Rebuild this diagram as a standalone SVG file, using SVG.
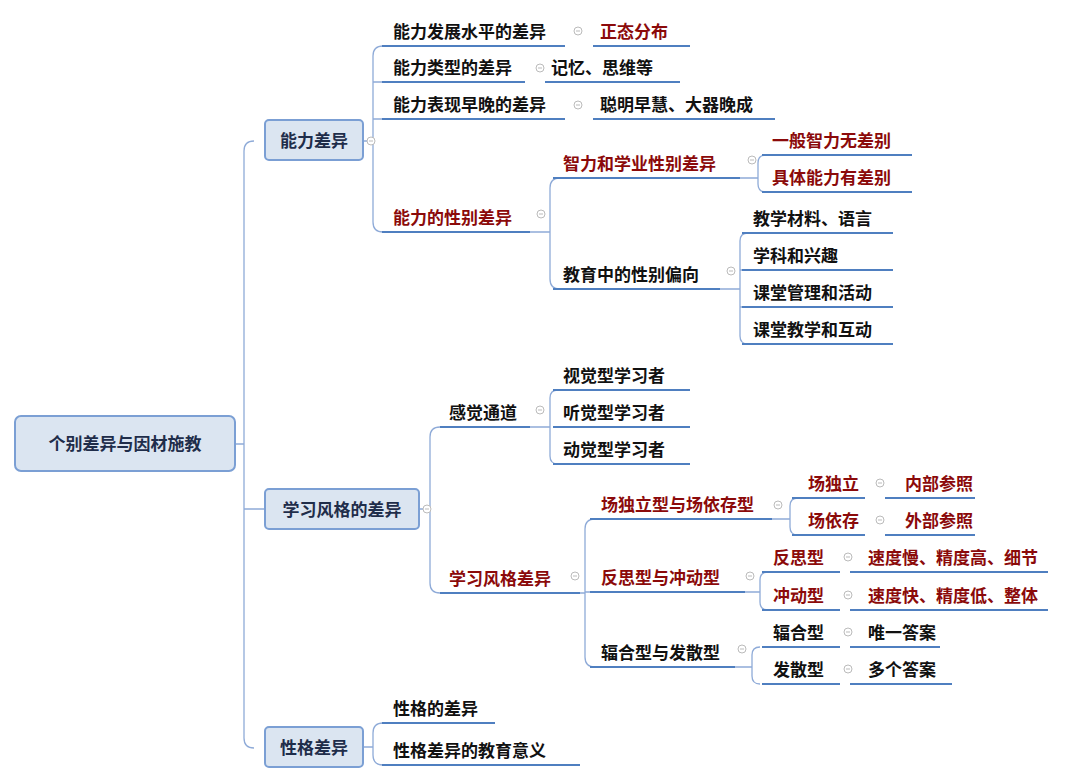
<svg xmlns="http://www.w3.org/2000/svg" width="1080" height="782" viewBox="0 0 1080 782">
<style>
.t{font-family:"Noto Sans CJK SC","Liberation Sans",sans-serif;font-weight:bold;font-size:17px;fill:#111}
.r{fill:#8b0a0a}
.b{fill:#1f2d4a}
.u{stroke:#4f7fc0;stroke-width:2.2;fill:none}
.c{stroke:#8fabd8;stroke-width:1.3;fill:none}
.box{fill:#dbe5f1;stroke:#7b9fd4;stroke-width:2}
.i circle{fill:#fff;stroke:#bbb;stroke-width:1}
.i line{stroke:#bbb;stroke-width:1}
</style>
<defs>
<g id="ic" class="i"><circle r="4"/><line x1="-2" x2="2" y1="0" y2="0"/></g>
</defs>
<rect width="1080" height="782" fill="#fff"/>
<g id="connectors">
<path class="c" d="M235 444H244M254 141Q244 141 244 151V738Q244 748 254 748M244 509H265"/>
<path class="c" d="M363 141H373M383 46Q373 46 373 56V222Q373 232 383 232M373 82H382M373 119H382"/>
<path class="c" d="M530 232H550M560 178Q550 178 550 188V279Q550 289 560 289"/>
<path class="c" d="M740 178H758M766 155Q758 155 758 163V184Q758 192 766 192"/>
<path class="c" d="M720 289H740M748 233Q740 233 740 241V336Q740 344 748 344M740 270H742M740 307H742"/>
<path class="c" d="M419 509H430M440 427Q430 427 430 437V583Q430 593 440 593"/>
<path class="c" d="M530 427H550M558 390Q550 390 550 398V456Q550 464 558 464"/>
<path class="c" d="M580 593H585M595 519Q585 519 585 529V657Q585 667 595 667M585 592H590"/>
<path class="c" d="M772 519H790M798 498Q790 498 790 506V527Q790 535 798 535"/>
<path class="c" d="M745 592H760M768 572Q760 572 760 580V602Q760 610 768 610"/>
<path class="c" d="M735 667H752M760 647Q752 647 752 655V676Q752 684 760 684"/>
<path class="c" d="M363 747H373M383 723Q373 723 373 733V755Q373 765 383 765"/>
<g class="u">
<path d="M382 46H565M593 46H690M382 82H525M545 82H680M382 119H565M593 119H775M382 232H530"/>
<path d="M553 178H740M762 155H912M762 192H912M553 289H720"/>
<path d="M742 233H893M742 270H893M742 307H893M742 344H893"/>
<path d="M440 427H530M553 390H690M553 427H690M553 464H690M440 593H580"/>
<path d="M590 519H772M792 498H865M885 498H975M792 535H865M885 535H975"/>
<path d="M590 592H745M762 572H840M850 572H1048M762 610H840M850 610H1048"/>
<path d="M590 667H735M762 647H840M850 647H940M762 684H840M850 684H952"/>
<path d="M382 723H495M382 765H580"/>
</g>
</g>
<g id="root"><rect class="box" x="15" y="416" width="220" height="55" rx="6" stroke-width="3.5"/><text class="t b" x="125" y="450" text-anchor="middle" font-size="18">个别差异与因材施教</text></g>
<g id="n1"><rect class="box" x="265" y="120" width="98" height="40" rx="4"/><text class="t b" x="314" y="147" text-anchor="middle">能力差异</text><use href="#ic" x="371" y="141"/></g>
<g id="n2"><rect class="box" x="265" y="489" width="154" height="40" rx="4"/><text class="t b" x="342" y="516" text-anchor="middle">学习风格的差异</text><use href="#ic" x="427" y="509"/></g>
<g id="n3"><rect class="box" x="265" y="727" width="98" height="40" rx="4"/><text class="t b" x="314" y="754" text-anchor="middle">性格差异</text></g>
<g id="a1"><text class="t" x="393" y="38">能力发展水平的差异</text><use href="#ic" x="578" y="31"/></g>
<g id="a1a"><text class="t r" x="600" y="38">正态分布</text></g>
<g id="a2"><text class="t" x="393" y="74">能力类型的差异</text><use href="#ic" x="540" y="68"/></g>
<g id="a2a"><text class="t" x="551" y="74">记忆、思维等</text></g>
<g id="a3"><text class="t" x="393" y="111">能力表现早晚的差异</text><use href="#ic" x="578" y="105"/></g>
<g id="a3a"><text class="t" x="600" y="111">聪明早慧、大器晚成</text></g>
<g id="a4"><text class="t r" x="393" y="224">能力的性别差异</text><use href="#ic" x="541" y="214"/></g>
<g id="a41"><text class="t r" x="563" y="170">智力和学业性别差异</text><use href="#ic" x="752" y="160"/></g>
<g id="a411"><text class="t r" x="772" y="147">一般智力无差别</text></g>
<g id="a412"><text class="t r" x="772" y="184">具体能力有差别</text></g>
<g id="a42"><text class="t" x="563" y="281">教育中的性别偏向</text><use href="#ic" x="731" y="271"/></g>
<g id="a421"><text class="t" x="753" y="225">教学材料、语言</text></g>
<g id="a422"><text class="t" x="753" y="262">学科和兴趣</text></g>
<g id="a423"><text class="t" x="753" y="299">课堂管理和活动</text></g>
<g id="a424"><text class="t" x="753" y="336">课堂教学和互动</text></g>
<g id="b1"><text class="t" x="449" y="419">感觉通道</text><use href="#ic" x="540" y="410"/></g>
<g id="b11"><text class="t" x="563" y="382">视觉型学习者</text></g>
<g id="b12"><text class="t" x="563" y="419">听觉型学习者</text></g>
<g id="b13"><text class="t" x="563" y="456">动觉型学习者</text></g>
<g id="b2"><text class="t r" x="449" y="585">学习风格差异</text><use href="#ic" x="575" y="576"/></g>
<g id="b21"><text class="t r" x="601" y="511">场独立型与场依存型</text><use href="#ic" x="778" y="505"/></g>
<g id="b211"><text class="t r" x="808" y="490">场独立</text><use href="#ic" x="880" y="483"/></g>
<g id="b211a"><text class="t r" x="905" y="490">内部参照</text></g>
<g id="b212"><text class="t r" x="808" y="527">场依存</text><use href="#ic" x="880" y="520"/></g>
<g id="b212a"><text class="t r" x="905" y="527">外部参照</text></g>
<g id="b22"><text class="t r" x="601" y="584">反思型与冲动型</text><use href="#ic" x="750" y="576"/></g>
<g id="b221"><text class="t r" x="773" y="564">反思型</text><use href="#ic" x="848" y="557"/></g>
<g id="b221a"><text class="t r" x="868" y="564">速度慢、精度高、细节</text></g>
<g id="b222"><text class="t r" x="773" y="602">冲动型</text><use href="#ic" x="848" y="595"/></g>
<g id="b222a"><text class="t r" x="868" y="602">速度快、精度低、整体</text></g>
<g id="b23"><text class="t" x="601" y="659">辐合型与发散型</text><use href="#ic" x="742" y="649"/></g>
<g id="b231"><text class="t" x="773" y="639">辐合型</text><use href="#ic" x="848" y="632"/></g>
<g id="b231a"><text class="t" x="868" y="639">唯一答案</text></g>
<g id="b232"><text class="t" x="773" y="676">发散型</text><use href="#ic" x="848" y="669"/></g>
<g id="b232a"><text class="t" x="868" y="676">多个答案</text></g>
<g id="c1"><text class="t" x="393" y="715">性格的差异</text></g>
<g id="c2"><text class="t" x="393" y="757">性格差异的教育意义</text></g>
</svg>
